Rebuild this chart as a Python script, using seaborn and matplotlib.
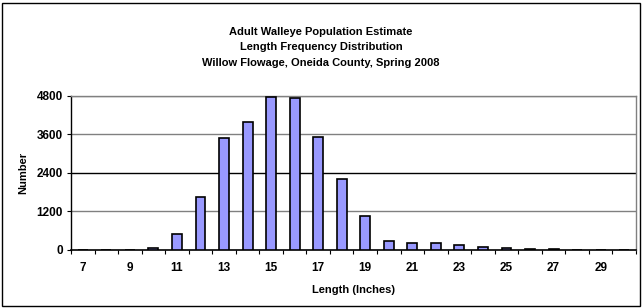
import pandas as pd
import numpy as np
import matplotlib
matplotlib.use("Agg")
import matplotlib.pyplot as plt
import seaborn as sns

# length classes (inches) and estimated number of fish
lengths = list(range(7, 31))
numbers = [0, 0, 0, 40, 470, 1625, 3470, 3990, 4770, 4720, 3520, 2190,
           1050, 280, 200, 200, 150, 70, 45, 30, 20, 0, 0, 0]
tick_labels = [str(v) if v % 2 == 1 else "" for v in lengths]

df = pd.DataFrame({"Length": lengths, "Number": numbers})

sns.set_style("white")
plt.rcParams['font.family'] = ['Liberation Sans', 'DejaVu Sans']
plt.rcParams['text.color'] = 'black'
plt.rcParams['axes.labelcolor'] = 'black'
plt.rcParams['xtick.color'] = 'black'
plt.rcParams['ytick.color'] = 'black'

fig = plt.figure(figsize=(6.42, 3.08), dpi=100)
ax = fig.add_axes([71/642, 1 - 249.5/308, 565/642, 153.8/308])

sns.barplot(data=df, x="Length", y="Number", color="#9999FF", saturation=1,
            width=0.42, edgecolor="black", linewidth=1.2, ax=ax, zorder=3)

ax.set_ylim(0, 4800)
ax.set_yticks([0, 1200, 2400, 3600, 4800])
ax.set_yticklabels(["0", "1200", "2400", "3600", "4800"], fontsize=8.5, fontweight="bold")
ax.set_xlim(-0.5, len(lengths) - 0.5)
ax.set_xticks(range(len(lengths)))
ax.set_xticklabels(tick_labels, fontsize=8.5, fontweight="bold")
ax.set_xticks(np.arange(-0.5, len(lengths), 1), minor=True)
ax.tick_params(axis="x", which="major", length=0, pad=9)
ax.tick_params(axis="x", which="minor", length=3, width=0.8, direction="out", color="black", bottom=True)
ax.tick_params(axis="y", length=3, width=0.8, direction="out", color="black", left=True, pad=3)

for y in [1200, 3600, 4800]:
    ax.axhline(y, color="#808080", lw=1, zorder=1)
ax.axhline(2400, color="black", lw=1, zorder=1)

for s in ["top", "right"]:
    ax.spines[s].set_color("#808080")
    ax.spines[s].set_linewidth(1)
ax.spines["left"].set_color("black")
ax.spines["bottom"].set_color("black")
ax.spines["left"].set_linewidth(1)
ax.spines["bottom"].set_linewidth(1.2)

ax.set_xlabel("Length (Inches)", fontsize=8, fontweight="bold", labelpad=8)
ax.set_ylabel("Number", fontsize=8, fontweight="bold", labelpad=6)

fig.text(0.5, 1 - 32/308, "Adult Walleye Population Estimate", ha="center", va="center",
         fontsize=8, fontweight="bold")
fig.text(0.5, 1 - 47/308, "Length Frequency Distribution", ha="center", va="center",
         fontsize=8, fontweight="bold")
fig.text(0.5, 1 - 63/308, "Willow Flowage, Oneida County, Spring 2008", ha="center", va="center",
         fontsize=8, fontweight="bold")

# outer chart border
fig.patches.append(plt.Rectangle((2/642, 2/308), 638/642, 303/308, transform=fig.transFigure,
                                 fill=False, edgecolor="black", lw=1))

fig.savefig("out.png", dpi=100)
